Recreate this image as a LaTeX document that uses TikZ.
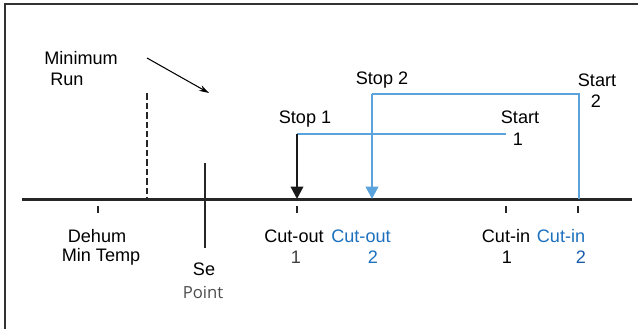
\documentclass[tikz,border=0pt]{standalone}
\usepackage{fontspec}
\setmainfont{Liberation Sans}
\newfontfamily\lightfont{Open Sans}
\usetikzlibrary{arrows.meta}

\definecolor{lineblue}{RGB}{91,163,220}
\definecolor{textblue}{RGB}{28,112,190}
\definecolor{darkblue}{RGB}{25,92,172}

\begin{document}
\begin{tikzpicture}[
    x=0.02cm, y=-0.02cm,
    every node/.style={font=\fontsize{10.3}{12}\selectfont, inner sep=0pt},
    bluetext/.style={text=textblue},
    graytext/.style={font=\lightfont\fontsize{9.5}{11}\selectfont, text=black!70},
    axis/.style={line width=1.7pt, black!85},
    tick/.style={line width=1.2pt, black!85},
    stoparrow/.style={-{Triangle[length=0.25cm, width=0.25cm]}, line width=1.3pt},
    blueline/.style={line width=1.1pt, lineblue}
]

\useasboundingbox (0,0) rectangle (638,329);

% Frame (top and left only)
\draw[line width=1.7pt, black!80] (5,329) -- (5,4) -- (638,4);

% Temperature axis
\coordinate (axL) at (22,199);
\coordinate (axR) at (632,199);
\draw[axis] (axL) -- (axR);

% Ticks below the axis
\foreach \x in {98, 297, 506, 578}
    \draw[tick] (\x,206) -- (\x,213);

% Minimum run marker
\coordinate (runtop) at (147,93);
\coordinate (runbot) at (147,199);
\draw[line width=1.1pt, black!85, dash pattern=on 0.13cm off 0.06cm] (runtop) -- (runbot);

\node[anchor=west] (minimum) at (44,58) {Minimum};
\node[anchor=west] (run) at (50,79) {Run};
\coordinate (runfrom) at (147,58);
\coordinate (runto) at (209,93);
\draw[-{Stealth[length=0.2cm, width=0.12cm]}, line width=0.6pt] (runfrom) -- (runto);

% Set point
\coordinate (settop) at (205,163);
\coordinate (setbot) at (205,248);
\draw[line width=1.4pt, black!85] (settop) -- (setbot);
\node (se) at (204,269) {Se};
\node[graytext] (point) at (203,292) {Point};

% Stage 1: start 1 -> stop 1
\coordinate (start1) at (506,134);
\coordinate (stop1) at (297,134);
\coordinate (co1) at (297,199);
\draw[blueline] (start1) -- (stop1);
\draw[stoparrow, black!90] (stop1) -- (co1);

% Stage 2: start 2 -> stop 2
\coordinate (ci2) at (579,199);
\coordinate (start2) at (579,94);
\coordinate (stop2) at (372,94);
\coordinate (co2) at (372,199);
\draw[blueline] (ci2) -- (start2) -- (stop2);
\draw[stoparrow, lineblue] (stop2) -- (co2);

% Upper labels
\node (stop1lbl) at (305,119) {Stop 1};
\node (stop2lbl) at (382,80) {Stop 2};
\node (start1lbl) at (520,117) {Start};
\node (start1num) at (518,139) {1};
\node (start2lbl) at (597,80) {Start};
\node (start2num) at (596,101) {2};

% Lower labels
\node (dehum) at (97,236) {Dehum};
\node (mintemp) at (101,257) {Min Temp};

\node (co1lbl) at (294,236) {Cut-out};
\node[text=black!75] (co1num) at (296,257) {1};
\node[bluetext] (co2lbl) at (361,236) {Cut-out};
\node[bluetext] (co2num) at (373,257) {2};

\node (ci1lbl) at (506,236) {Cut-in};
\node (ci1num) at (507,257) {1};
\node[bluetext] (ci2lbl) at (561,236) {Cut-in};
\node[text=darkblue] (ci2num) at (581,257) {2};

\end{tikzpicture}
\end{document}
